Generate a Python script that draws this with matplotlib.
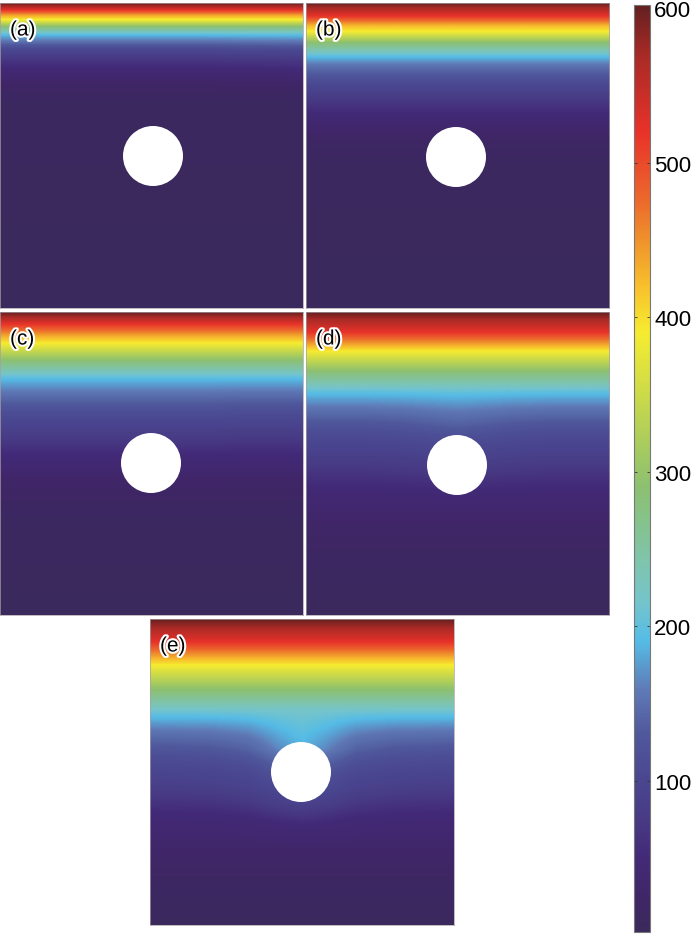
import numpy as np
import matplotlib
matplotlib.use("Agg")
import matplotlib.pyplot as plt
from matplotlib.colors import LinearSegmentedColormap
from matplotlib.patches import Circle
import matplotlib.patheffects as pe

plt.rcParams['font.family'] = ['Liberation Sans', 'DejaVu Sans']

W, H = 700, 937

# colour bar stops (value, colour)
cbar_values = [2, 25, 50, 75, 100, 130, 160, 190, 215, 245, 290, 345, 390, 420, 445, 475, 520, 570, 602]
cbar_colors = ['#3a2a5c', '#402668', '#432a78', '#483a84', '#4a4690', '#50589c', '#5f7cb8', '#55bce6',
               '#74c4cc', '#80c4a8', '#8cc070', '#c6d84c', '#f6ec30', '#f8c02c', '#f09a2c', '#ec6a2c',
               '#e8322a', '#a82a26', '#642020']
cbar_ticks = [100, 200, 300, 400, 500, 600]

panel_names = ['(a)', '(b)', '(c)', '(d)', '(e)']
# panel boxes in pixels: left, right, top, bottom
panel_left = [0, 306, 0, 306, 150]
panel_right = [303, 609, 303, 609, 454]
panel_top = [4, 4, 313, 313, 620]
panel_bottom = [309, 309, 616, 616, 926]
circle_x = [153, 456, 151, 457, 301]
circle_y = [157, 158, 464, 466, 773]
circle_r = [30, 30, 30, 30, 30]

# temperature profile against depth below the top edge (px)
depth_a = [0, 3, 7, 12, 17, 24, 32, 38, 46, 56, 66, 82, 105, 304]
temp_a = [602, 570, 520, 440, 385, 280, 190, 155, 105, 72, 46, 22, 9, 5]
depth_b = [0, 4, 13, 22, 29, 40, 54, 62, 78, 95, 112, 135, 165, 305]
temp_b = [602, 575, 520, 430, 385, 285, 190, 155, 112, 78, 46, 22, 9, 5]
depth_c = [0, 5, 12, 23, 32, 49, 67, 80, 100, 122, 142, 170, 215, 303]
temp_c = [602, 570, 520, 440, 385, 285, 190, 155, 112, 82, 50, 24, 10, 5]
depth_d = [0, 6, 20, 32, 40, 60, 82, 96, 120, 150, 178, 215, 260, 303]
temp_d = [602, 575, 520, 440, 385, 285, 190, 155, 112, 80, 46, 24, 12, 6]
depth_e = [0, 7, 23, 37, 47, 72, 98, 112, 138, 168, 195, 235, 270, 306]
temp_e = [602, 575, 520, 440, 385, 285, 190, 155, 112, 85, 48, 26, 14, 6]
panel_depths = [depth_a, depth_b, depth_c, depth_d, depth_e]
panel_temps = [temp_a, temp_b, temp_c, temp_d, temp_e]

# how far the front sags (px) across the width
front_x = [0.0, 0.2, 0.32, 0.42, 0.5, 0.58, 0.68, 0.8, 1.0]
sag_a = [0, 0, 0, 0, 0, 0, 0, 1, 2]
sag_b = [0, 0, 0, 0, 0, 0, 0, 0, 0]
sag_c = [1, 1, 1, 1, 1, 1, 1, 0, 0]
sag_d = [0, 0, 2, 5, 7, 5, 2, 0, 0]
sag_e = [0, 2, 8, 22, 30, 22, 8, 2, 0]
panel_sags = [sag_a, sag_b, sag_c, sag_d, sag_e]
sag_start = [25, 45, 60, 74, 90]
sag_end = [120, 160, 190, 210, 230]

cnorm = [(v - cbar_values[0]) / (cbar_values[-1] - cbar_values[0]) for v in cbar_values]
cmap = LinearSegmentedColormap.from_list('heat', list(zip(cnorm, cbar_colors)), N=512)

fig = plt.figure(figsize=(W / 100, H / 100), dpi=100)


def px_axes(left, right, top, bottom):
    return fig.add_axes([left / W, 1 - bottom / H, (right - left) / W, (bottom - top) / H])


im = None
for i in range(5):
    ax = px_axes(panel_left[i], panel_right[i], panel_top[i], panel_bottom[i])
    w = panel_right[i] - panel_left[i]
    h = panel_bottom[i] - panel_top[i]
    xs = np.arange(w) + 0.5
    ys = np.arange(h) + 0.5
    xx, yy = np.meshgrid(xs, ys)
    sag = np.interp(xx / w, front_x, panel_sags[i])
    # sag only acts under the front and dies out again past the circle
    ramp = np.clip((yy - sag_start[i]) / 40, 0, 1) * np.clip((sag_end[i] - yy) / 60, 0, 1)
    field = np.interp(yy - sag * ramp, panel_depths[i], panel_temps[i])
    im = ax.imshow(field, cmap=cmap, vmin=2, vmax=602, extent=(panel_left[i], panel_right[i], panel_bottom[i], panel_top[i]),
                   aspect='auto', interpolation='bilinear')
    ax.add_patch(Circle((circle_x[i], circle_y[i]), circle_r[i], color='white', lw=0))
    ax.set_xticks([])
    ax.set_yticks([])
    for s in ax.spines.values():
        s.set_color('#a89ea6')
        s.set_linewidth(0.5)
    ax.text(panel_left[i] + 10, panel_top[i] + 27, panel_names[i], fontsize=15, color='black', ha='left', va='center',
            path_effects=[pe.withStroke(linewidth=3, foreground='white')])

cax = px_axes(634, 650, 6, 933)
cb = fig.colorbar(im, cax=cax, ticks=cbar_ticks)
cb.ax.tick_params(direction='in', length=2, width=0.6, labelsize=16, pad=3, color='#333333', left=True, right=True)
cb.outline.set_edgecolor('#777777')
cb.outline.set_linewidth(0.8)

fig.savefig('out.png', dpi=100)
